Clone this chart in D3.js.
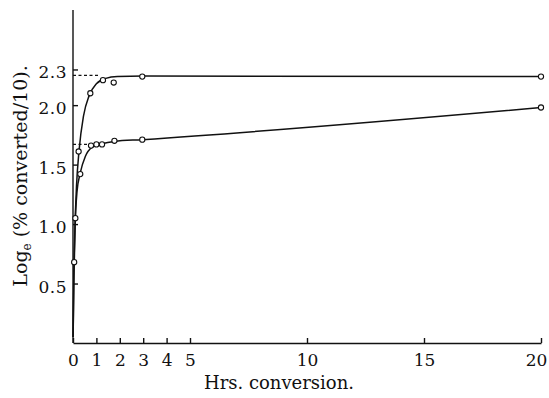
<!DOCTYPE html>
<html>
<head>
<meta charset="utf-8">
<script src="https://cdn.jsdelivr.net/npm/d3@7"></script>
<style>
  body { margin: 0; background: #fff; }
  svg { display: block; }
  text { font-family: "DejaVu Serif", "Liberation Serif", serif; fill: #111; }
</style>
</head>
<body>
<div class="chart"></div>
<script>
// observed points (hours, loge value)
var upperPts = [[0.10, 1.05], [0.24, 1.61], [0.74, 2.10], [1.28, 2.21], [1.74, 2.19], [2.96, 2.24], [20, 2.24]];
var lowerPts = [[0.05, 0.68], [0.31, 1.42], [0.77, 1.66], [1.0, 1.67], [1.24, 1.67], [1.77, 1.70], [2.96, 1.71], [20, 1.98]];

// drawn (smoothed) curves
var upperCurve = [[0.005, 0.05], [0.03, 0.5], [0.08, 0.95], [0.15, 1.32], [0.26, 1.62], [0.45, 1.91], [0.69, 2.08],
  [1.0, 2.18], [1.4, 2.225], [1.9, 2.24], [3, 2.245], [20, 2.24]];
var lowerCurve = [[0.005, 0.05], [0.04, 0.55], [0.09, 0.98], [0.17, 1.27], [0.31, 1.43], [0.53, 1.57], [0.81, 1.645],
  [1.24, 1.675], [1.77, 1.695], [2.96, 1.71], [20, 1.98]];

// dashed extrapolations back to the axis
var dashLines = [[[0, 2.25], [1.1, 2.25]], [[0, 1.67], [0.6, 1.67]]];

var xTicks = [0, 1, 2, 3, 4, 5, 10, 15, 20];
var yTicks = [0.5, 1.0, 1.5, 2.0, 2.3];
var yTickLabels = ['0.5', '1.0', '1.5', '2.0', '2.3'];

var svgWidth = 549;
var svgHeight = 398;

function createSvg(parent, height, width) {
  return d3.select(parent).append('svg').attr('height', height).attr('width', width);
}

var svg = createSvg('.chart', svgHeight, svgWidth);

var x = d3.scaleLinear().domain([0, 20]).range([73, 541]);
var y = d3.scaleLinear().domain([0, 2.8]).range([343, 10]);

// x axis, ticks point inward
var xAxis = svg.append('g')
  .attr('transform', 'translate(0,' + y(0) + ')')
  .call(d3.axisBottom(x).tickValues(xTicks).tickSizeInner(-5).tickSizeOuter(0).tickPadding(11));

var yAxis = svg.append('g')
  .attr('transform', 'translate(' + x(0) + ',0)')
  .call(d3.axisLeft(y).tickValues(yTicks).tickSizeInner(-5).tickSizeOuter(0).tickPadding(6)
    .tickFormat(function (d, i) { return yTickLabels[i]; }));

svg.selectAll('.domain, .tick line').attr('stroke', '#111').attr('stroke-width', 1.4);
svg.selectAll('.tick text').attr('font-size', 17).style('font-family', '"DejaVu Serif", serif').attr('fill', '#111');
yAxis.selectAll('.tick text').attr('dy', '0.5em').attr('letter-spacing', 0.5);
// keep the "20" inside the frame
xAxis.selectAll('.tick text').filter(function (d) { return d === 20; }).attr('dx', -5);

// y axis runs a bit past the last tick
yAxis.select('.domain').attr('d', 'M0,' + y(0) + 'V' + y(2.8));

var line = d3.line()
  .x(function (d) { return x(d[0]); })
  .y(function (d) { return y(d[1]); })
  .curve(d3.curveMonotoneX);

[upperCurve, lowerCurve].forEach(function (c) {
  svg.append('path')
    .attr('d', line(c))
    .attr('fill', 'none')
    .attr('stroke', '#111')
    .attr('stroke-width', 1.5);
});

dashLines.forEach(function (c) {
  svg.append('path')
    .attr('d', d3.line().x(function (d) { return x(d[0]); }).y(function (d) { return y(d[1]); })(c))
    .attr('fill', 'none')
    .attr('stroke', '#111')
    .attr('stroke-width', 1.3)
    .attr('stroke-dasharray', '3,2.5');
});

svg.selectAll('circle.pt')
  .data(upperPts.concat(lowerPts))
  .enter()
  .append('circle')
  .attr('class', 'pt')
  .attr('cx', function (d) { return x(d[0]); })
  .attr('cy', function (d) { return y(d[1]); })
  .attr('r', 2.6)
  .attr('fill', '#fff')
  .attr('stroke', '#111')
  .attr('stroke-width', 1.1);

// axis titles
svg.append('text')
  .attr('x', 279)
  .attr('y', 389)
  .attr('text-anchor', 'middle')
  .attr('font-size', 18)
  .text('Hrs. conversion.');

var yTitle = svg.append('text')
  .attr('transform', 'translate(27,176) rotate(-90)')
  .attr('text-anchor', 'middle')
  .attr('font-size', 19);
yTitle.append('tspan').text('Log');
yTitle.append('tspan').attr('font-size', 12).attr('dy', 4).text('e');
yTitle.append('tspan').attr('dy', -4).text(' (% converted/10).');
</script>
</body>
</html>
